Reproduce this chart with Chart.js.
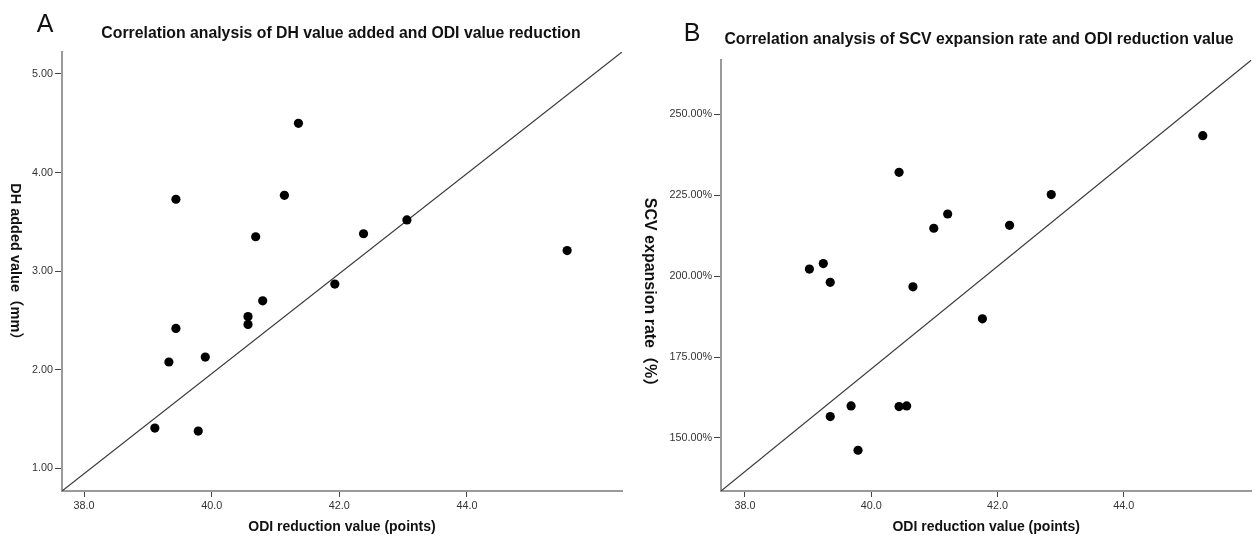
<!DOCTYPE html>
<html><head><meta charset="utf-8">
<script src="https://cdn.jsdelivr.net/npm/chart.js@4.4.0/dist/chart.umd.min.js"></script>
<style>
html,body{margin:0;padding:0;background:#fff;width:1256px;height:536px;overflow:hidden}
.panel{position:absolute;top:0;height:536px}
#pa{left:0;width:628px}
#pb{left:640px;width:616px}
</style></head><body>
<div class="panel" id="pa"><canvas id="ca" width="628" height="536"></canvas></div>
<div class="panel" id="pb"><canvas id="cb" width="616" height="536"></canvas></div>
<script>
// ---- Panel A: DH added value vs ODI reduction ----
const odiA = [39.11, 39.44, 39.44, 39.33, 39.90, 39.79, 40.57, 40.57, 40.69, 40.80, 41.14, 41.36, 41.93, 42.38, 43.06, 45.57];
const dhA  = [1.41, 3.73, 2.42, 2.08, 2.13, 1.38, 2.54, 2.46, 3.35, 2.70, 3.77, 4.50, 2.87, 3.38, 3.52, 3.21];
// ---- Panel B: SCV expansion rate vs ODI reduction ----
const odiB = [39.02, 39.24, 39.35, 39.68, 39.35, 39.79, 40.44, 40.56, 40.44, 40.66, 40.99, 41.21, 41.76, 42.19, 42.85, 45.25];
const scvB = [202.2, 203.9, 198.1, 159.9, 156.6, 146.2, 159.7, 159.9, 232.1, 196.7, 214.8, 219.2, 186.8, 215.7, 225.2, 243.4];
// ---- ticks and axis ranges ----
const xTicks  = [38, 40, 42, 44];
const yTicksA = [1, 2, 3, 4, 5];
const yTicksB = [150, 175, 200, 225, 250];
const xRangeA = [37.655, 46.43];
const yRangeA = [0.772, 5.223];
const xRangeB = [37.62, 46.02];
const yRangeB = [133.6, 266.8];
// fit lines (endpoints in data units)
const fitA = [[xRangeA[0], yRangeA[0]], [xRangeA[1], yRangeA[1]]];
const fitB = [[xRangeB[0], yRangeB[0]], [xRangeB[1], yRangeB[1]]];

const FAM = '"Liberation Sans", Arial, Helvetica, sans-serif';

const panelText = {
  id: 'panelText',
  afterDraw(chart, args, o) {
    if (!o || !o.title) return;
    const ctx = chart.ctx, ca = chart.chartArea;
    ctx.save();
    ctx.fillStyle = '#111';
    ctx.textBaseline = 'middle';
    ctx.textAlign = 'center';
    ctx.font = '25px ' + FAM;
    ctx.fillText(o.letter, o.letterX, o.letterY);
    ctx.font = 'bold 15.8px ' + FAM;
    ctx.fillText(o.title, o.titleX, o.titleY);
    ctx.font = 'bold 14px ' + FAM;
    ctx.fillText(o.xTitle, (ca.left + ca.right) / 2, o.xTitleY);
    ctx.translate(o.yTitleX, o.yTitleY);
    ctx.rotate(Math.PI / 2);
    ctx.font = 'bold ' + o.yTitleSize + 'px ' + FAM + ', "Noto Sans CJK SC"';
    ctx.fillText(o.yTitle, 0, 0);
    ctx.restore();
  }
};
Chart.register(panelText);

function makeChart(id, xs, ys, fit, xr, yr, yTicks, yFmt, yAxisW, pad, texts) {
  const tickFont = { family: FAM, size: 10.8 };
  return new Chart(document.getElementById(id), {
    type: 'scatter',
    data: {
      datasets: [
        { data: xs.map((x, i) => ({ x: x, y: ys[i] })), backgroundColor: '#000', borderColor: '#000',
          pointRadius: 4.6, pointHoverRadius: 4.6, borderWidth: 0, order: 1 },
        { data: fit.map(p => ({ x: p[0], y: p[1] })), showLine: true, borderColor: '#3a3a3a',
          borderWidth: 1.2, pointRadius: 0, fill: false, order: 2 }
      ]
    },
    options: {
      responsive: false, animation: false, devicePixelRatio: 1,
      layout: { padding: pad },
      plugins: { legend: { display: false }, tooltip: { enabled: false }, title: { display: false }, panelText: texts },
      scales: {
        x: {
          type: 'linear', min: xr[0], max: xr[1],
          afterBuildTicks: s => { s.ticks = xTicks.map(v => ({ value: v })); },
          afterFit: s => { s.height = 45; },
          ticks: { callback: v => Number(v).toFixed(1), font: tickFont, color: '#333', padding: 3, maxRotation: 0, autoSkip: false },
          grid: { drawOnChartArea: false, drawTicks: true, tickLength: 6, color: '#444', lineWidth: 1 },
          border: { display: true, color: '#9a9a9a', width: 2 }
        },
        y: {
          type: 'linear', min: yr[0], max: yr[1],
          afterBuildTicks: s => { s.ticks = yTicks.map(v => ({ value: v })); },
          afterFit: s => { s.width = yAxisW; },
          ticks: { callback: yFmt, font: tickFont, color: '#333', padding: 2, autoSkip: false },
          grid: { drawOnChartArea: false, drawTicks: true, tickLength: 7, color: '#444', lineWidth: 1 },
          border: { display: true, color: '#9a9a9a', width: 2 }
        }
      }
    }
  });
}

makeChart('ca', odiA, dhA, fitA, xRangeA, yRangeA, yTicksA, v => Number(v).toFixed(2), 62,
  { top: 52, right: 6, left: 0, bottom: 0 },
  { letter: 'A', letterX: 45, letterY: 25,
    title: 'Correlation analysis of DH value added and ODI value reduction', titleX: 341, titleY: 34,
    xTitle: 'ODI reduction value (points)', xTitleY: 527,
    yTitle: 'DH added value（mm）', yTitleX: 15, yTitleY: 265, yTitleSize: 14.5 });

makeChart('cb', odiB, scvB, fitB, xRangeB, yRangeB, yTicksB, v => Number(v).toFixed(2) + '%', 81,
  { top: 60, right: 0, left: 0, bottom: 0 },
  { letter: 'B', letterX: 52, letterY: 34,
    title: 'Correlation analysis of SCV expansion rate and ODI reduction value', titleX: 339, titleY: 40,
    xTitle: 'ODI reduction value (points)', xTitleY: 527,
    yTitle: 'SCV expansion rate（%）', yTitleX: 9, yTitleY: 296, yTitleSize: 16 });
</script>
</body></html>
